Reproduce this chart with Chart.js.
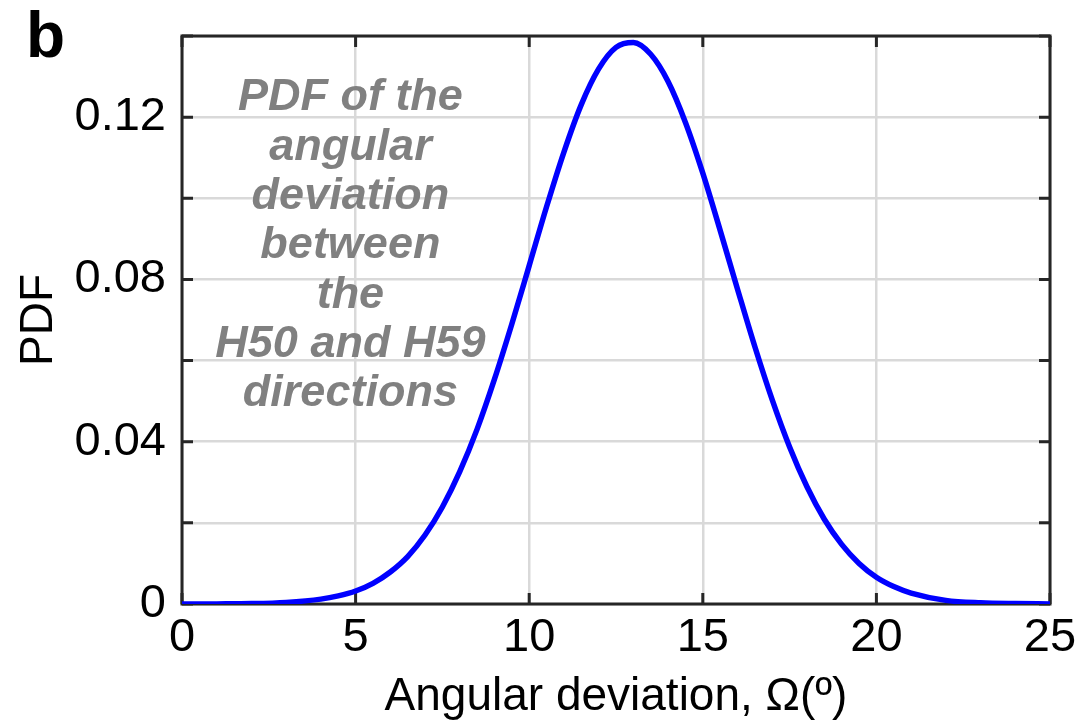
<!DOCTYPE html>
<html>
<head>
<meta charset="utf-8">
<script src="https://cdn.jsdelivr.net/npm/chart.js@4.4.1/dist/chart.umd.min.js"></script>
<style>
  body { margin: 0; background: #fff; }
  #pdf-chart { display: block; }
</style>
</head>
<body>
<canvas id="pdf-chart" width="1085" height="725"></canvas>
<script>
// angular deviation (deg) and PDF
const angles = [0, 1, 2, 3, 4, 4.5, 5, 5.5, 6, 6.5, 7, 7.5, 8, 8.5, 9, 9.5, 10, 10.5, 11, 11.5,
    12, 12.5, 13, 13.5, 14, 14.5, 15, 15.5, 16, 16.5, 17, 17.5, 18, 18.5, 19, 19.5, 20, 20.5, 21,
    22, 23, 24, 25];
const pdfValues = [0.0000, 0.00003, 0.0001, 0.0004, 0.0012, 0.0020, 0.0032, 0.0051, 0.0079, 0.0117,
    0.0170, 0.0239, 0.0326, 0.0431, 0.0554, 0.0690, 0.0834, 0.0979, 0.1114, 0.1231,
    0.1319, 0.1372, 0.1384, 0.1355, 0.1288, 0.1187, 0.1062, 0.0921, 0.0776, 0.0634,
    0.0503, 0.0387, 0.0289, 0.0209, 0.0147, 0.0100, 0.0066, 0.0043, 0.0027,
    0.0009, 0.0003, 0.0001, 0.00002];

const xTicks = [0, 5, 10, 15, 20, 25];
const yLabelled = ['0', '0.04', '0.08', '0.12'];
const noteLines = ['PDF of the', 'angular', 'deviation', 'between', 'the', 'H50 and H59', 'directions'];
const panelLetter = 'b';

const tickFont = { family: '"Liberation Sans", Arial, sans-serif', size: 47 };
const titleFont = { family: '"Liberation Sans", Arial, sans-serif', size: 46 };

// box around the axes with inward tick marks (MATLAB style)
const axesBox = {
    id: 'axesBox',
    beforeDatasetsDraw(chart) {
        const { ctx, chartArea: a, scales } = chart;
        const len = 11;
        ctx.save();
        ctx.strokeStyle = '#262626';
        ctx.lineWidth = 3;
        ctx.strokeRect(a.left, a.top, a.right - a.left, a.bottom - a.top);
        ctx.beginPath();
        scales.x.ticks.forEach(t => {
            const px = scales.x.getPixelForValue(t.value);
            ctx.moveTo(px, a.bottom); ctx.lineTo(px, a.bottom - len);
            ctx.moveTo(px, a.top); ctx.lineTo(px, a.top + len);
        });
        scales.y.ticks.forEach(t => {
            const py = scales.y.getPixelForValue(t.value);
            ctx.moveTo(a.left, py); ctx.lineTo(a.left + len, py);
            ctx.moveTo(a.right, py); ctx.lineTo(a.right - len, py);
        });
        ctx.stroke();
        ctx.restore();
    }
};

// panel letter and grey note
const labels = {
    id: 'labels',
    afterDraw(chart) {
        const { ctx, chartArea: a, scales } = chart;
        ctx.save();
        ctx.fillStyle = '#000';
        ctx.font = 'bold 64px "Liberation Sans", Arial, sans-serif';
        ctx.textAlign = 'left';
        ctx.textBaseline = 'alphabetic';
        ctx.fillText(panelLetter, 26, 57);

        ctx.fillStyle = '#808080';
        ctx.font = 'italic bold 45px "Liberation Sans", Arial, sans-serif';
        ctx.textAlign = 'center';
        ctx.textBaseline = 'middle';
        const cx = scales.x.getPixelForValue(4.85);
        noteLines.forEach((s, i) => {
            ctx.fillText(s, cx, a.top + 62 + i * 49.3);
        });
        ctx.restore();
    }
};

const ctx = document.querySelector('#pdf-chart').getContext('2d');

const pdfGraph = new Chart(ctx, {
    type: 'line',
    data: {
        datasets: [{
            data: angles.map((a, i) => ({ x: a, y: pdfValues[i] })),
            borderColor: '#0000ff',
            borderWidth: 5.5,
            pointRadius: 0,
            fill: false,
            cubicInterpolationMode: 'monotone'
        }]
    },
    options: {
        responsive: false,
        animation: false,
        layout: { padding: { left: 0, top: 36, right: 35, bottom: 0 } },
        plugins: {
            legend: { display: false },
            tooltip: { enabled: false }
        },
        scales: {
            x: {
                type: 'linear',
                min: 0,
                max: 25,
                afterFit(scale) {
                    scale.height = 121;
                    scale.paddingLeft = 0;
                    scale.paddingRight = 0;
                },
                afterBuildTicks(scale) { scale.ticks = xTicks.map(v => ({ value: v })); },
                ticks: { color: '#000', font: tickFont, padding: 6, maxRotation: 0 },
                grid: { color: '#d9d9d9', lineWidth: 2.5, drawTicks: false },
                border: { display: false },
                title: {
                    display: true,
                    text: 'Angular deviation, Ω(º)',
                    color: '#000',
                    font: titleFont,
                    padding: { top: 0, bottom: 0 }
                }
            },
            y: {
                min: 0,
                max: 0.14,
                afterFit(scale) {
                    scale.width = 182;
                    scale.paddingTop = 0;
                    scale.paddingBottom = 0;
                },
                ticks: {
                    stepSize: 0.02,
                    color: '#000',
                    font: tickFont,
                    padding: 16,
                    callback(value) {
                        const s = String(Math.round(value * 100) / 100);
                        return yLabelled.includes(s) ? s : '';
                    }
                },
                grid: { color: '#d9d9d9', lineWidth: 2.5, drawTicks: false },
                border: { display: false },
                title: {
                    display: true,
                    text: 'PDF',
                    color: '#000',
                    font: titleFont,
                    padding: { top: 12, bottom: 0 }
                }
            }
        }
    },
    plugins: [axesBox, labels]
});
</script>
</body>
</html>
